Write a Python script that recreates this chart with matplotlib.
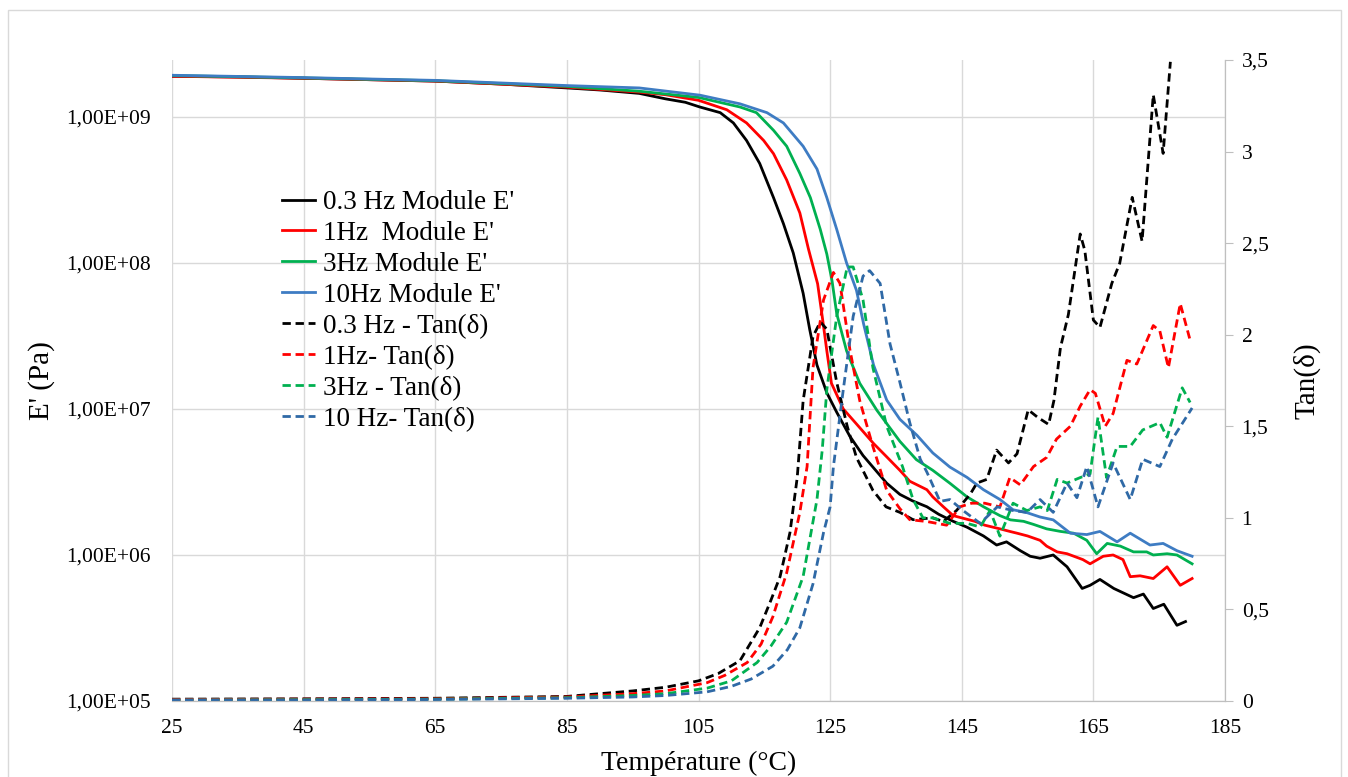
import numpy as np
import matplotlib
matplotlib.use('Agg')
import matplotlib.pyplot as plt
from matplotlib.ticker import FuncFormatter, FixedLocator, NullLocator
from matplotlib.patches import Rectangle

plt.rcParams['font.family'] = ['Liberation Serif', 'DejaVu Serif']

# ---------------- data ----------------
# storage modulus E' (Pa)
T_e03 = [25, 35, 45, 55, 65, 75, 85, 90, 96, 100, 103, 105.2, 108.3, 110.3, 112.3, 114.3, 116.4, 117.9,
         119.4, 120.9, 121.9, 123, 124.5, 126, 128, 130, 133.6, 135.6, 137.5, 139.7, 141.5, 143.7, 145.8,
         148.3, 150.3, 151.8, 153.9, 155.4, 156.9, 158.9, 161, 163.3, 164.5, 166, 168.1, 171.1, 172.6,
         174.1, 175.7, 177.7, 179]
E_03 = [1.9e9, 1.88e9, 1.84e9, 1.8e9, 1.76e9, 1.68e9, 1.58e9, 1.53e9, 1.45e9, 1.33e9, 1.26e9, 1.17e9,
        1.07e9, 9.1e8, 6.9e8, 4.8e8, 2.8e8, 1.86e8, 1.17e8, 6.2e7, 3.5e7, 2.0e7, 1.29e7, 9.5e6, 6.5e6,
        4.8e6, 3.1e6, 2.6e6, 2.35e6, 2.14e6, 1.9e6, 1.7e6, 1.55e6, 1.35e6, 1.17e6, 1.23e6, 1.07e6, 9.8e5,
        9.5e5, 1.0e6, 8.3e5, 5.9e5, 6.2e5, 6.8e5, 5.9e5, 5.1e5, 5.4e5, 4.3e5, 4.6e5, 3.3e5, 3.5e5]

T_e1 = [25, 45, 65, 85, 96, 100, 105, 109.3, 112.3, 114.9, 116.4, 118.4, 120.4, 121.7, 123.1, 123.8,
        124.5, 125.2, 127, 129, 131.6, 133.6, 135.6, 137.1, 139.7, 140.6, 142.2, 143.7, 145.3, 147,
        148.5, 150.8, 152.3, 153.4, 155, 156.9, 157.9, 159.5, 161, 163.4, 164.5, 166.5, 168, 169.5,
        170.6, 172.1, 174.1, 176.2, 178.2, 180]
E_1 = [1.9e9, 1.84e9, 1.76e9, 1.6e9, 1.48e9, 1.42e9, 1.3e9, 1.12e9, 9.1e8, 6.9e8, 5.6e8, 3.7e8, 2.2e8,
       1.25e8, 7.2e7, 4.3e7, 2.5e7, 1.5e7, 1.0e7, 7.9e6, 5.8e6, 4.7e6, 3.8e6, 3.2e6, 2.8e6, 2.5e6,
       2.14e6, 1.86e6, 1.78e6, 1.7e6, 1.6e6, 1.51e6, 1.45e6, 1.41e6, 1.35e6, 1.26e6, 1.15e6, 1.05e6,
       1.02e6, 9.3e5, 8.7e5, 9.8e5, 1.0e6, 9.3e5, 7.1e5, 7.2e5, 6.9e5, 8.3e5, 6.2e5, 6.9e5]

T_e3 = [25, 45, 65, 85, 96, 105, 111.3, 113.8, 116.4, 118.4, 120.4, 122, 123.5, 124.5, 125.3, 126,
        127.5, 129.5, 132.1, 135.6, 138.1, 140.6, 143.2, 145.8, 148.3, 150.8, 152.4, 154.4, 155.9,
        157.9, 160, 162, 164, 165.5, 167.1, 169.1, 171.1, 173.1, 174.1, 176.2, 177.7, 180]
E_3 = [1.92e9, 1.85e9, 1.77e9, 1.62e9, 1.5e9, 1.36e9, 1.17e9, 1.07e9, 8.1e8, 6.3e8, 4.1e8, 2.8e8,
       1.7e8, 1.15e8, 7.5e7, 4.5e7, 2.5e7, 1.5e7, 9.8e6, 6.0e6, 4.5e6, 3.8e6, 3.1e6, 2.5e6, 2.14e6,
       1.86e6, 1.74e6, 1.7e6, 1.62e6, 1.51e6, 1.45e6, 1.41e6, 1.26e6, 1.02e6, 1.2e6, 1.15e6, 1.05e6,
       1.05e6, 1.0e6, 1.02e6, 1.0e6, 8.7e5]

T_e10 = [25, 45, 65, 85, 96, 105.2, 111.3, 115.4, 117.9, 120.9, 123, 124.5, 126, 127.5, 129, 130.1,
         131.6, 133.6, 135.6, 138.2, 140.6, 143.2, 145.8, 148.3, 150.8, 152.8, 154.9, 156.9, 158.9,
         161.5, 164, 166, 168.6, 170.6, 173.6, 175.6, 177.7, 180]
E_10 = [1.93e9, 1.86e9, 1.78e9, 1.64e9, 1.58e9, 1.41e9, 1.23e9, 1.07e9, 9.1e8, 6.3e8, 4.4e8, 2.8e8,
        1.7e8, 1.0e8, 6.5e7, 3.8e7, 2.0e7, 1.15e7, 8.5e6, 6.6e6, 5.0e6, 4.0e6, 3.4e6, 2.8e6, 2.4e6,
        2.04e6, 1.95e6, 1.82e6, 1.74e6, 1.41e6, 1.38e6, 1.45e6, 1.23e6, 1.41e6, 1.17e6, 1.2e6, 1.07e6,
        9.8e5]

# loss factor tan(delta)
T_t03 = [25, 45, 65, 85, 95, 100, 105, 108, 111.3, 114.3, 116, 117.4, 118.9, 120, 120.9, 122.4, 123.5,
         124.5, 126, 127.6, 129, 131.5, 133.5, 135.6, 137.6, 140.6, 142.2, 144.2, 146.3, 147.3, 148.8,
         150.3, 152.1, 153.4, 155.1, 156.5, 158.2, 159, 160, 161.2, 163, 163.7, 165, 166, 167.8, 169,
         170.9, 172.4, 174.1, 175.6, 176.7]
tan_03 = [0.01, 0.012, 0.015, 0.025, 0.055, 0.075, 0.11, 0.15, 0.22, 0.40, 0.55, 0.68, 0.92, 1.22,
          1.64, 1.99, 2.07, 2.03, 1.74, 1.50, 1.33, 1.15, 1.06, 1.03, 0.99, 1.0, 0.98, 1.04, 1.13, 1.19,
          1.21, 1.37, 1.30, 1.35, 1.59, 1.55, 1.51, 1.64, 1.93, 2.11, 2.55, 2.46, 2.08, 2.04, 2.28, 2.39,
          2.75, 2.51, 3.31, 2.99, 3.49]

T_t1 = [25, 45, 65, 85, 95, 100, 106.3, 109, 112.4, 114.5, 116.3, 118.4, 120.4, 121.5, 122.4, 124,
        125.5, 126.5, 128, 129.5, 131.5, 133.6, 135.6, 137.1, 139.7, 142.7, 144.7, 146.5, 148.5, 150.8,
        152.3, 153.9, 155.9, 157.9, 159.4, 161.5, 163, 164.5, 165.3, 166.8, 168, 170.1, 171.6, 174.1,
        175.1, 176.4, 178.2, 179.7]
tan_1 = [0.008, 0.01, 0.012, 0.022, 0.04, 0.055, 0.10, 0.14, 0.21, 0.31, 0.46, 0.70, 1.03, 1.28, 1.82,
         2.19, 2.34, 2.28, 1.92, 1.64, 1.39, 1.15, 1.05, 0.99, 0.98, 0.96, 1.06, 1.08, 1.08, 1.06, 1.22,
         1.18, 1.28, 1.33, 1.43, 1.50, 1.61, 1.70, 1.68, 1.50, 1.57, 1.86, 1.84, 2.05, 2.02, 1.82, 2.17,
         1.97]

T_t3 = [25, 45, 65, 85, 95, 100, 106.3, 110, 113.9, 116, 118.4, 120.9, 123, 123.8, 124.5, 126, 127.6,
        128.5, 130, 131.5, 133.6, 136, 137.6, 139.1, 140.6, 143.2, 145.8, 147.8, 149.3, 150.8, 152.8,
        154.9, 156.9, 158, 159.5, 161, 163, 164.5, 165.7, 167, 168.6, 170.6, 172.5, 175.1, 176.2,
        178.5, 179.7]
tan_3 = [0.005, 0.007, 0.01, 0.018, 0.03, 0.04, 0.07, 0.11, 0.21, 0.30, 0.43, 0.68, 1.10, 1.37, 1.70,
         2.10, 2.37, 2.37, 2.19, 1.82, 1.50, 1.28, 1.10, 1.0, 1.0, 0.97, 0.97, 0.95, 1.04, 0.90, 1.08,
         1.04, 1.06, 1.04, 1.21, 1.19, 1.22, 1.24, 1.55, 1.22, 1.39, 1.39, 1.48, 1.52, 1.44, 1.71, 1.63]

T_t10 = [25, 45, 65, 85, 95, 100, 106.3, 110, 113, 116.3, 118.5, 120.4, 122.4, 124, 125, 125.5, 127,
         128.5, 130, 131, 132.6, 134.1, 135.6, 137.1, 138.7, 139.7, 141.7, 143.2, 145.2, 147.8, 150.4,
         152.8, 154.9, 156.9, 158.9, 161, 162.5, 164, 165.7, 168, 170.6, 172.5, 175.1, 177, 180]
tan_10 = [0.005, 0.005, 0.008, 0.015, 0.022, 0.03, 0.05, 0.08, 0.12, 0.19, 0.28, 0.40, 0.64, 0.92,
          1.06, 1.28, 1.70, 2.10, 2.32, 2.35, 2.28, 1.95, 1.74, 1.52, 1.32, 1.25, 1.09, 1.10, 1.04, 0.97,
          1.06, 1.04, 1.03, 1.10, 1.03, 1.19, 1.11, 1.28, 1.06, 1.30, 1.10, 1.32, 1.28, 1.43, 1.60]

labels_E = ["0.3 Hz Module E'", "1Hz  Module E'", "3Hz Module E'", "10Hz Module E'"]
labels_tan = ["0.3 Hz - Tan(\u03b4)", "1Hz- Tan(\u03b4)", "3Hz - Tan(\u03b4)", "10 Hz- Tan(\u03b4)"]
x_ticks = [25, 45, 65, 85, 105, 125, 145, 165, 185]
E_ticks = [1e5, 1e6, 1e7, 1e8, 1e9]
tan_ticks = [0, 0.5, 1, 1.5, 2, 2.5, 3, 3.5]

col_solid = ['#000000', '#FF0000', '#00B050', '#3E7CC3']
col_dash = ['#000000', '#FF0000', '#00B050', '#2F69A6']

# ---------------- figure ----------------
fig = plt.figure(figsize=(13.48, 7.77), dpi=100)
fig.patches.append(Rectangle((8/1348, -0.01), 1333/1348, 1 - 10/777 + 0.01,
                             transform=fig.transFigure, fill=False, ec='#D9D9D9', lw=1))

ax = fig.add_axes([172/1348, 1 - 701/777, 1053/1348, 641/777])
ax2 = ax.twinx()

grid_c = '#D9D9D9'
axis_c = '#BFBFBF'

for T, E, c, lab in zip([T_e03, T_e1, T_e3, T_e10], [E_03, E_1, E_3, E_10], col_solid, labels_E):
    ax.plot(T, E, color=c, lw=2.0, label=lab, solid_joinstyle='round')

for T, t, c, lab in zip([T_t03, T_t1, T_t3, T_t10], [tan_03, tan_1, tan_3, tan_10], col_dash, labels_tan):
    ax2.plot(T, t, color=c, lw=2.0, ls=(0, (3, 1.7)), label=lab)

ax.set_yscale('log')
ax.set_xlim(25, 185)
ax.set_ylim(1e5, 10 ** 9.39)
ax.xaxis.set_major_locator(FixedLocator(x_ticks))
ax.yaxis.set_major_locator(FixedLocator(E_ticks))
ax.yaxis.set_minor_locator(NullLocator())
ax.yaxis.set_major_formatter(FuncFormatter(lambda v, p: ('%.2E' % v).replace('.', ',')))
ax.grid(True, color=grid_c, lw=1)
ax.set_axisbelow(True)

ax2.set_ylim(0, 3.5)
ax2.yaxis.set_major_locator(FixedLocator(tan_ticks))
ax2.yaxis.set_major_formatter(FuncFormatter(lambda v, p: ('%g' % v).replace('.', ',')))

for a in (ax, ax2):
    for s in ('top', 'left'):
        a.spines[s].set_visible(False)
    a.spines['bottom'].set_color(axis_c)
    a.spines['right'].set_color(axis_c)

ax.tick_params(axis='x', length=0, labelsize=15.5, pad=13)
ax.tick_params(axis='y', length=0, labelsize=15.5, pad=15)
ax2.tick_params(axis='y', length=6, color=axis_c, labelsize=15.5, pad=6)

ax.set_xlabel('Température (°C)', fontsize=20, labelpad=9)
ax.set_ylabel("E' (Pa)", fontsize=21, labelpad=8)
ax2.set_ylabel('Tan(\u03b4)', fontsize=21, labelpad=18)

h1, l1 = ax.get_legend_handles_labels()
h2, l2 = ax2.get_legend_handles_labels()
ax2.legend(h1 + h2, l1 + l2, loc='upper left', bbox_to_anchor=(282/1348, 1 - 190/777),
           bbox_transform=fig.transFigure, frameon=False, fontsize=19.5, handlelength=1.2,
           handletextpad=0.32, labelspacing=0.22, borderaxespad=0, borderpad=0)

fig.savefig('out.png', dpi=100)
